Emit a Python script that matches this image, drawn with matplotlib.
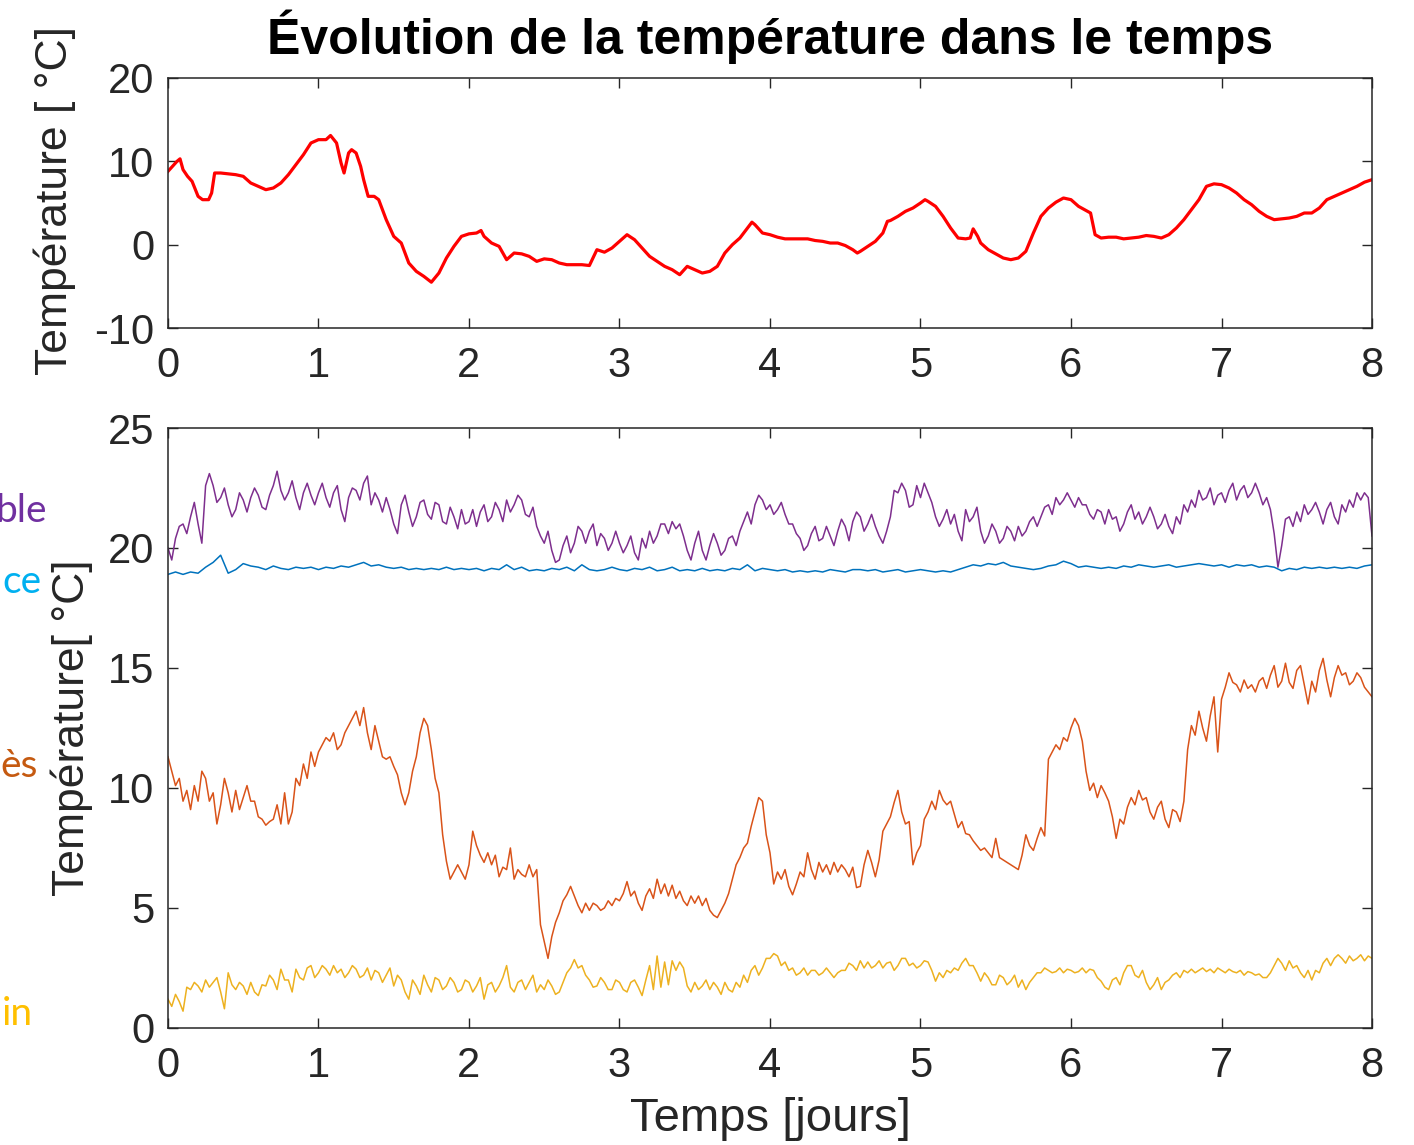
import numpy as np
import matplotlib
matplotlib.use("Agg")
import matplotlib.pyplot as plt

plt.rcParams['font.family'] = ['Liberation Sans', 'DejaVu Sans']
plt.rcParams['axes.unicode_minus'] = False

# --- exterieur (courbe rouge, lissee) : temps [jours], temperature [C]
t_ext = [0.00, 0.03, 0.06, 0.08, 0.10, 0.13, 0.16, 0.20, 0.23, 0.27, 0.29, 0.31, 0.35,
         0.40, 0.45, 0.50, 0.55, 0.60, 0.65, 0.70, 0.75, 0.80, 0.85, 0.90, 0.95, 1.00,
         1.05, 1.08, 1.12, 1.15, 1.17, 1.20, 1.22, 1.25, 1.28, 1.30, 1.33, 1.37, 1.40,
         1.45, 1.50, 1.55, 1.60, 1.65, 1.70, 1.75, 1.80, 1.85, 1.90, 1.95, 2.00, 2.05,
         2.08, 2.10, 2.15, 2.20, 2.25, 2.30, 2.35, 2.40, 2.45, 2.50, 2.55, 2.60, 2.65,
         2.70, 2.75, 2.80, 2.85, 2.90, 2.95, 3.00, 3.05, 3.10, 3.15, 3.20, 3.25, 3.30,
         3.35, 3.40, 3.45, 3.50, 3.55, 3.60, 3.65, 3.70, 3.75, 3.80, 3.85, 3.88, 3.90,
         3.95, 4.00, 4.05, 4.10, 4.15, 4.20, 4.25, 4.30, 4.35, 4.40, 4.45, 4.50, 4.55,
         4.58, 4.60, 4.65, 4.70, 4.75, 4.78, 4.80, 4.85, 4.90, 4.95, 5.00, 5.03, 5.05,
         5.10, 5.15, 5.20, 5.25, 5.30, 5.33, 5.35, 5.38, 5.40, 5.45, 5.50, 5.55, 5.60,
         5.65, 5.70, 5.75, 5.80, 5.85, 5.90, 5.95, 6.00, 6.05, 6.10, 6.13, 6.16, 6.20,
         6.25, 6.30, 6.35, 6.40, 6.45, 6.50, 6.55, 6.60, 6.65, 6.70, 6.75, 6.80, 6.85,
         6.90, 6.95, 7.00, 7.05, 7.10, 7.15, 7.20, 7.25, 7.30, 7.35, 7.40, 7.45, 7.50,
         7.55, 7.60, 7.65, 7.70, 7.75, 7.80, 7.85, 7.90, 7.95, 8.00]
T_ext = [8.8, 9.4, 10.0, 10.3, 9.0, 8.2, 7.6, 5.8, 5.4, 5.4, 6.2, 8.6, 8.6,
         8.5, 8.4, 8.2, 7.4, 7.0, 6.6, 6.8, 7.4, 8.4, 9.6, 10.8, 12.2, 12.6,
         12.6, 13.1, 12.2, 9.8, 8.6, 11.0, 11.4, 11.0, 9.4, 7.8, 5.8, 5.8, 5.4,
         3.0, 1.0, 0.2, -2.2, -3.2, -3.8, -4.5, -3.4, -1.6, -0.2, 1.0, 1.3, 1.4,
         1.7, 1.0, 0.2, -0.2, -1.8, -1.0, -1.1, -1.4, -2.0, -1.7, -1.8, -2.2, -2.4,
         -2.4, -2.4, -2.5, -0.6, -0.9, -0.4, 0.4, 1.2, 0.6, -0.4, -1.4, -2.0, -2.6,
         -3.0, -3.6, -2.6, -3.0, -3.4, -3.2, -2.6, -1.0, 0.0, 0.8, 2.0, 2.7, 2.4,
         1.4, 1.2, 0.9, 0.7, 0.7, 0.7, 0.7, 0.5, 0.4, 0.2, 0.2, -0.1, -0.6,
         -1.0, -0.8, -0.2, 0.4, 1.4, 2.8, 2.9, 3.4, 4.0, 4.4, 5.0, 5.4, 5.2,
         4.6, 3.4, 2.0, 0.8, 0.7, 0.8, 1.9, 1.0, 0.2, -0.6, -1.1, -1.6, -1.8,
         -1.6, -0.8, 1.4, 3.4, 4.4, 5.1, 5.6, 5.4, 4.6, 4.1, 3.8, 1.2, 0.8,
         0.9, 0.9, 0.7, 0.8, 0.9, 1.1, 1.0, 0.8, 1.2, 2.0, 3.0, 4.2, 5.4,
         7.0, 7.3, 7.2, 6.8, 6.2, 5.4, 4.8, 4.0, 3.4, 3.0, 3.1, 3.2, 3.4,
         3.8, 3.8, 4.4, 5.4, 5.8, 6.2, 6.6, 7.0, 7.5, 7.8]

# --- capteurs interieurs, releves tous les 0.025 jours
T_meuble = [20.0, 19.5, 20.4, 20.9, 21.0, 20.6, 21.3, 21.9, 21.0, 20.2,
            22.6, 23.1, 22.6, 21.9, 22.1, 22.5, 21.8, 21.3, 21.6, 22.3,
            22.0, 21.5, 22.1, 22.5, 22.2, 21.7, 21.6, 22.2, 22.6, 23.2,
            22.4, 22.0, 22.3, 22.8, 22.1, 21.6, 22.3, 22.7, 22.2, 21.8,
            22.3, 22.7, 22.1, 21.7, 22.3, 22.6, 21.6, 21.1, 22.1, 22.5,
            22.4, 22.0, 22.7, 23.0, 21.8, 22.3, 22.0, 21.5, 22.1, 21.6,
            21.0, 20.6, 21.8, 22.2, 21.5, 20.9, 21.3, 21.9, 22.0, 21.4,
            21.2, 21.9, 21.8, 21.1, 21.0, 21.7, 21.3, 20.8, 21.6, 21.0,
            21.1, 21.6, 20.9, 21.5, 21.8, 21.1, 21.3, 21.9, 21.6, 21.1,
            22.0, 21.5, 21.8, 22.2, 22.0, 21.4, 21.3, 21.7, 20.9, 20.5,
            20.2, 20.7, 19.9, 19.4, 19.5, 20.1, 20.5, 19.8, 20.2, 20.9,
            20.7, 20.2, 20.7, 21.0, 20.1, 20.6, 20.4, 19.9, 20.2, 20.7,
            20.2, 19.8, 20.1, 20.5, 19.8, 19.5, 20.4, 20.0, 20.7, 20.2,
            20.5, 21.0, 21.0, 20.6, 21.1, 20.8, 21.0, 20.5, 19.9, 19.5,
            20.2, 20.7, 19.9, 19.5, 20.1, 20.6, 20.2, 19.7, 19.9, 20.4,
            20.5, 20.1, 20.7, 21.1, 21.5, 21.0, 21.8, 22.2, 22.0, 21.6,
            21.8, 21.4, 21.6, 21.9, 21.4, 21.0, 21.0, 20.6, 20.4, 19.9,
            20.1, 20.6, 20.9, 20.3, 20.4, 20.9, 20.5, 20.1, 20.7, 21.2,
            20.9, 20.3, 21.1, 21.5, 21.3, 20.7, 21.0, 21.4, 20.9, 20.5,
            20.2, 20.7, 21.3, 22.4, 22.3, 22.7, 22.4, 21.7, 21.8, 22.6,
            22.1, 22.7, 22.3, 21.9, 21.3, 20.9, 21.2, 21.6, 21.0, 21.4,
            20.7, 20.3, 21.6, 21.1, 21.3, 21.7, 20.7, 20.2, 20.5, 21.0,
            20.7, 20.2, 20.4, 20.9, 20.7, 20.3, 20.9, 20.5, 20.7, 21.1,
            21.3, 20.9, 21.3, 21.7, 21.8, 21.4, 22.1, 21.8, 22.0, 22.3,
            22.0, 21.7, 22.1, 21.8, 21.8, 21.4, 21.2, 21.6, 21.5, 21.0,
            21.6, 21.2, 21.3, 20.7, 21.0, 21.5, 21.8, 21.2, 21.5, 21.0,
            21.3, 21.7, 21.3, 20.8, 21.0, 21.4, 20.9, 20.6, 21.3, 21.0,
            21.8, 21.5, 22.0, 21.7, 22.4, 22.0, 22.1, 22.5, 21.8, 22.2,
            22.3, 21.9, 22.4, 22.7, 22.0, 22.4, 22.6, 22.1, 22.3, 22.7,
            22.3, 21.8, 22.1, 21.6, 20.6, 19.2, 20.1, 21.2, 21.3, 20.9,
            21.5, 21.1, 21.8, 21.4, 21.6, 21.9, 21.5, 21.0, 21.6, 21.9,
            21.3, 21.0, 21.8, 21.5, 22.0, 21.7, 22.3, 22.0, 22.3, 22.1,
            20.5]

T_surface = [18.9, 19.0, 18.9, 19.0, 18.95, 19.2, 19.4, 19.7, 18.95, 19.1,
             19.35, 19.25, 19.2, 19.1, 19.25, 19.15, 19.1, 19.2, 19.15, 19.2,
             19.1, 19.2, 19.15, 19.25, 19.2, 19.3, 19.4, 19.25, 19.3, 19.2,
             19.15, 19.2, 19.1, 19.15, 19.1, 19.15, 19.1, 19.2, 19.1, 19.15,
             19.1, 19.15, 19.05, 19.15, 19.1, 19.3, 19.1, 19.2, 19.05, 19.1,
             19.05, 19.15, 19.1, 19.2, 19.05, 19.3, 19.1, 19.05, 19.1, 19.2,
             19.1, 19.05, 19.15, 19.1, 19.2, 19.05, 19.1, 19.2, 19.05, 19.1,
             19.05, 19.15, 19.05, 19.1, 19.05, 19.15, 19.1, 19.3, 19.05, 19.15,
             19.1, 19.05, 19.1, 19.0, 19.05, 19.0, 19.05, 19.0, 19.1, 19.05,
             19.0, 19.1, 19.1, 19.05, 19.1, 19.0, 19.05, 19.1, 19.0, 19.05,
             19.1, 19.05, 19.0, 19.05, 19.0, 19.1, 19.2, 19.3, 19.25, 19.35,
             19.3, 19.4, 19.25, 19.2, 19.15, 19.1, 19.15, 19.25, 19.3, 19.45,
             19.35, 19.2, 19.25, 19.2, 19.15, 19.2, 19.15, 19.25, 19.2, 19.3,
             19.25, 19.2, 19.25, 19.3, 19.2, 19.25, 19.3, 19.35, 19.3, 19.25,
             19.3, 19.2, 19.3, 19.25, 19.3, 19.2, 19.25, 19.2, 19.05, 19.15,
             19.1, 19.2, 19.15, 19.2, 19.15, 19.2, 19.15, 19.2, 19.15, 19.25,
             19.3]

T_apres = [11.3, 10.7, 10.1, 10.4, 9.45, 9.9, 9.1, 10.1, 9.45, 10.7,
           10.4, 9.45, 9.8, 8.5, 9.3, 10.4, 9.8, 9.0, 9.9, 9.1,
           9.6, 10.1, 9.45, 9.45, 8.8, 8.7, 8.45, 8.6, 8.7, 9.3,
           8.5, 9.8, 8.5, 9.0, 10.4, 10.1, 11.0, 10.4, 11.5, 10.9,
           11.5, 11.8, 12.1, 11.95, 12.3, 11.6, 11.8, 12.3, 12.6, 12.9,
           13.2, 12.6, 13.35, 12.3, 11.6, 12.6, 11.95, 11.3, 11.2, 11.3,
           10.9, 10.55, 9.8, 9.3, 9.8, 10.7, 11.3, 12.3, 12.9, 12.6,
           11.6, 10.4, 9.8, 8.05, 6.95, 6.2, 6.5, 6.8, 6.5, 6.2,
           6.8, 8.2, 7.6, 7.2, 6.9, 7.3, 6.8, 7.2, 6.3, 6.7,
           6.6, 7.5, 6.2, 6.6, 6.4, 6.3, 6.8, 6.3, 6.6, 4.3,
           3.6, 2.9, 3.8, 4.4, 4.8, 5.3, 5.55, 5.9, 5.5, 5.1,
           4.8, 5.2, 4.9, 5.2, 5.1, 4.9, 5.0, 5.3, 5.1, 5.4,
           5.3, 5.6, 6.1, 5.5, 5.7, 5.2, 4.9, 5.5, 5.8, 5.4,
           6.2, 5.6, 6.0, 5.5, 5.95, 5.4, 5.7, 5.3, 5.1, 5.5,
           5.2, 5.5, 5.1, 5.4, 4.9, 4.7, 4.6, 4.9, 5.2, 5.6,
           6.2, 6.8, 7.1, 7.5, 7.7, 8.4, 9.0, 9.6, 9.45, 8.05,
           7.3, 6.0, 6.5, 6.2, 6.6, 5.9, 5.55, 6.0, 6.5, 6.3,
           7.3, 6.6, 6.2, 6.9, 6.5, 6.8, 6.4, 6.9, 6.5, 6.8,
           6.6, 6.3, 6.7, 5.85, 5.9, 6.8, 7.4, 6.9, 6.3, 7.0,
           8.2, 8.5, 8.8, 9.4, 9.9, 9.0, 8.5, 8.6, 6.8, 7.3,
           7.6, 8.7, 9.0, 9.45, 9.1, 9.9, 9.5, 9.3, 9.45, 8.9,
           8.35, 8.6, 8.1, 8.05, 7.8, 7.6, 7.4, 7.5, 7.3, 7.1,
           7.9, 7.1, 7.0, 6.9, 6.8, 6.7, 6.6, 7.2, 8.05, 7.6,
           7.4, 7.9, 8.35, 8.0, 11.2, 11.5, 11.8, 11.6, 12.1, 11.95,
           12.5, 12.9, 12.6, 11.95, 10.7, 9.9, 10.2, 9.6, 10.1, 9.8,
           9.45, 8.8, 7.9, 8.7, 8.5, 9.2, 9.6, 9.3, 9.9, 9.5,
           9.6, 9.0, 8.7, 9.2, 9.45, 8.7, 8.35, 9.1, 9.0, 8.6,
           9.45, 11.6, 12.6, 12.2, 13.2, 12.5, 11.95, 13.0, 13.8, 11.5,
           13.7, 14.2, 14.8, 14.4, 14.3, 14.0, 14.5, 14.15, 14.3, 14.0,
           14.45, 14.6, 14.15, 14.7, 15.1, 14.2, 14.45, 15.2, 14.4, 14.15,
           14.9, 15.1, 14.3, 13.5, 14.45, 14.0, 14.9, 15.4, 14.5, 13.8,
           14.6, 15.1, 14.7, 14.8, 14.3, 14.45, 14.8, 14.6, 14.2, 14.0,
           13.8]

T_jardin = [1.2, 0.9, 1.4, 1.1, 0.7, 1.7, 1.6, 1.9, 1.75, 1.5,
            2.0, 1.7, 1.9, 2.1, 1.5, 0.8, 2.3, 1.8, 1.6, 1.9,
            1.75, 1.4, 1.9, 1.5, 1.35, 1.8, 1.75, 2.2, 2.0, 1.6,
            2.45, 2.0, 2.0, 1.5, 2.45, 2.1, 2.0, 2.5, 2.6, 2.1,
            2.3, 2.6, 2.45, 2.2, 2.6, 2.3, 2.45, 2.1, 2.3, 2.6,
            2.45, 2.1, 2.2, 2.5, 2.0, 2.4, 2.3, 1.9, 2.2, 2.5,
            1.75, 2.2, 2.0, 1.5, 1.2, 2.0, 1.75, 1.4, 2.2, 1.8,
            1.5, 2.1, 2.0, 1.6, 1.75, 2.1, 1.9, 1.5, 1.6, 2.0,
            1.9, 1.5, 1.75, 2.1, 1.2, 1.8, 1.9, 1.5, 1.75, 2.1,
            2.6, 1.7, 1.5, 1.9, 2.0, 1.6, 1.9, 2.2, 1.5, 1.8,
            1.6, 2.0, 1.75, 1.4, 1.5, 1.9, 2.3, 2.5, 2.85, 2.5,
            2.6, 2.2, 2.0, 1.7, 1.75, 2.1, 1.9, 1.6, 1.6, 2.0,
            1.9, 1.6, 1.5, 1.9, 2.0, 1.7, 1.35, 2.0, 2.6, 1.6,
            3.0, 1.7, 2.75, 1.8, 2.8, 2.4, 2.75, 2.5, 1.75, 1.5,
            1.9, 1.6, 1.75, 2.0, 1.6, 1.9, 1.7, 1.4, 1.9, 1.6,
            1.5, 1.9, 1.7, 2.2, 1.9, 2.4, 2.6, 2.2, 2.5, 2.9,
            2.9, 3.1, 3.0, 2.6, 2.75, 2.4, 2.5, 2.2, 2.3, 2.5,
            2.2, 2.4, 2.4, 2.2, 2.3, 2.5, 2.3, 2.1, 2.3, 2.4,
            2.4, 2.7, 2.6, 2.4, 2.8, 2.5, 2.75, 2.5, 2.6, 2.8,
            2.5, 2.7, 2.75, 2.4, 2.6, 2.9, 2.9, 2.6, 2.7, 2.5,
            2.6, 2.8, 2.75, 2.4, 1.95, 2.3, 2.1, 2.4, 2.3, 2.5,
            2.4, 2.7, 2.9, 2.6, 2.6, 2.3, 1.95, 2.3, 2.1, 1.8,
            1.8, 2.2, 2.1, 1.8, 1.95, 2.2, 1.7, 2.0, 1.6, 1.9,
            2.1, 2.3, 2.3, 2.5, 2.4, 2.3, 2.35, 2.5, 2.3, 2.45,
            2.4, 2.3, 2.35, 2.5, 2.3, 2.45, 2.4, 2.1, 1.95, 1.7,
            1.6, 2.0, 2.1, 1.8, 2.3, 2.6, 2.6, 2.2, 2.1, 2.4,
            1.9, 1.6, 1.8, 2.1, 1.6, 1.9, 2.0, 2.2, 2.3, 2.1,
            2.4, 2.3, 2.45, 2.3, 2.4, 2.5, 2.35, 2.45, 2.3, 2.5,
            2.4, 2.3, 2.45, 2.35, 2.3, 2.4, 2.2, 2.35, 2.3, 2.2,
            2.25, 2.1, 2.1, 2.3, 2.6, 2.9, 2.7, 2.4, 2.8, 2.5,
            2.6, 2.3, 2.1, 2.4, 2.0, 2.4, 2.3, 2.7, 2.9, 2.6,
            2.9, 3.05, 2.9, 2.7, 3.0, 2.8, 2.9, 3.05, 2.8, 3.0,
            2.9]

labels_gauche = ['ble', 'ce', 'ès', 'in']
couleurs_gauche = ['#7030A0', '#00B0F0', '#C55A11', '#FFC000']

c_axe = '#262626'
fs = 30

fig = plt.figure(figsize=(14.14, 11.45), dpi=100)
ax1 = fig.add_axes([0.1188, 0.7135, 0.8515, 0.2184])
ax2 = fig.add_axes([0.1188, 0.1022, 0.8515, 0.5240])

ax1.plot(t_ext, T_ext, color='#FF0000', lw=2.3)
ax1.set_xlim(0, 8)
ax1.set_ylim(-10, 20)
ax1.set_yticks([-10, 0, 10, 20])
ax1.set_title('Évolution de la température dans le temps', fontsize=36,
              fontweight='bold', pad=17, color='black')
ax1.set_ylabel('Température [ °C]', fontsize=32, color=c_axe)
ax1.yaxis.set_label_coords(-0.076, 0.51)

def temps(v):
    return np.linspace(0, 8, len(v))

ax2.plot(temps(T_surface), T_surface, color='#0072BD', lw=1.1)
ax2.plot(temps(T_apres), T_apres, color='#D95319', lw=1.1)
ax2.plot(temps(T_jardin), T_jardin, color='#EDB120', lw=1.1)
ax2.plot(temps(T_meuble), T_meuble, color='#7E2F8E', lw=1.1)
ax2.set_xlim(0, 8)
ax2.set_ylim(0, 25)
ax2.set_yticks([0, 5, 10, 15, 20, 25])
ax2.set_ylabel('Température[ °C]', fontsize=32, color=c_axe)
ax2.yaxis.set_label_coords(-0.062, 0.5)
ax2.set_xlabel('Temps [jours]', fontsize=34, color=c_axe, labelpad=8)

for ax in (ax1, ax2):
    ax.set_xticks(range(0, 9))
    ax.tick_params(direction='in', top=True, right=True, length=7, width=1.0,
                   color=c_axe, labelcolor=c_axe, labelsize=fs)
    ax.tick_params(axis='x', pad=13)
    ax.tick_params(axis='y', pad=10)
    for s in ax.spines.values():
        s.set_color(c_axe)
        s.set_linewidth(1.1)

y_lab = [0.5441, 0.4821, 0.3214, 0.1048]
x_lab = [0.0332, 0.0297, 0.0269, 0.0233]
for txt, c, x, y in zip(labels_gauche, couleurs_gauche, x_lab, y_lab):
    fig.text(x, y, txt, color=c, fontsize=28, ha='right', va='baseline',
             family=['Lato', 'DejaVu Sans'])

fig.savefig('out.png', dpi=100)
